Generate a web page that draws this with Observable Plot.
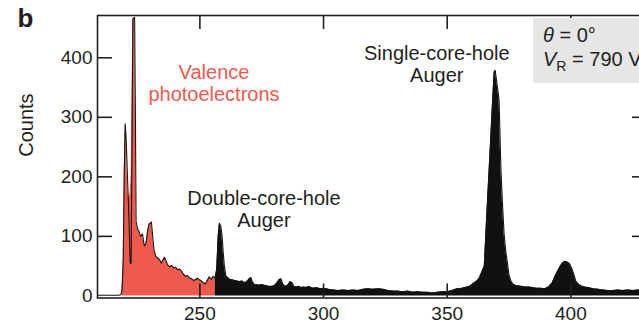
<!DOCTYPE html>
<html><head><meta charset="utf-8">
<script src="https://cdn.jsdelivr.net/npm/d3@7"></script>
<script src="https://cdn.jsdelivr.net/npm/@observablehq/plot@0.6"></script>
<style>
 html,body{margin:0;padding:0;background:#fff;}
 #wrap{position:relative;width:639px;height:322px;overflow:hidden;font-family:"Liberation Sans",Arial,sans-serif;color:#231f20;}
 #box{position:absolute;left:533px;top:18px;width:120px;height:65px;background:#e6e6e6;font-size:20px;line-height:24px;padding:5px 0 0 10px;box-sizing:border-box;white-space:nowrap;}
 #box sub{font-size:14px;vertical-align:-5px;line-height:0;}
</style></head><body>
<div id="wrap"><div id="chart"></div><div id="box"><div><i>θ</i> = 0°</div><div><i>V</i><sub>R</sub> = 790 V</div></div></div>
<script>
// Full spectrum (black outline), kinetic energy (eV) and counts
const specE = [209,212,215,217,218,218.5,219,219.4,219.8,220.2,220.6,221.0,221.4,221.8,222.2,222.6,222.9,223.6,223.9,224.2,224.8,225.4,226.0,226.8,227.5,228.2,228.9,229.5,230.4,231.0,231.5,232.2,233.0,233.8,234.4,235.0,235.7,236.4,237.0,237.8,238.6,239.4,240.2,241.0,241.8,242.6,243.4,244.2,245.0,245.8,246.6,247.4,248.2,249.0,249.8,250.6,251.4,252.2,253.0,253.8,254.6,255.4,256.2,256.8,257.4,257.9,258.4,258.9,259.4,259.9,260.5,261.2,262,263,264,265,266,267,268,269,270,270.6,271.2,272,273,274,275,276,277,278,279,280,281,282,282.8,283.5,284.5,285.5,286.5,287.3,288,289,290,291,292,293,294,295,296,297,298,299,300,302,304,306,308,310,312,314,316,318,320,322,324,326,328,330,332,334,336,338,340,342,344,346,348,350,352,354,356,358,359,360,361,362,363,364,365,366,367,367.7,368.4,369,369.4,370.2,371,371.7,372.3,373,373.7,374.4,375,375.7,376.5,377.5,378.5,380,381.5,383,384.5,386,388,389.5,391,392.5,393.5,394.5,395.5,396.5,397.5,398.5,399.5,400.5,401.3,402,403,404,405.5,407,409,411,413,415,417,419,421,423,425,427,429,431];
const specC = [1,1,1,1,2,8,60,200,289,262,215,168,120,56,54,280,465,468,320,125,113,108,100,104,84,88,110,121,124,96,76,66,64,60,55,60,65,58,52,49,51,47,48,44,45,42,36,33,34,30,29,26,27,30,27,25,22,20,26,32,28,33,30,45,100,122,118,104,75,50,34,31,28,27,26,25,24,25,22,24,29,31,24,19,19,18,19,18,17,16,16,17,21,27,29,20,16,18,24,22,16,15,16,14,15,14,16,14,13,14,13,12,13,11,10,9,10,9,10,9,11,12,11,12,11,9,8,8,7,8,6,7,6,6,5,6,7,7,9,12,13,15,16,19,22,25,30,40,50,135,215,272,330,376,379,355,328,216,160,105,75,54,35,26,20,18,17,16,15,15,14,13,13,12,15,22,32,40,48,55,58,57,54,45,35,25,20,17,15,14,12,11,10,9,9,10,9,10,9,10,11,10];
// Valence photoelectron region (red fill)
const valE = [218.5,219,219.4,219.8,220.2,220.6,221.0,221.4,221.8,222.2,222.6,222.9,223.6,223.9,224.2,224.8,225.4,226.0,226.8,227.5,228.2,228.9,229.5,230.4,231.0,231.5,232.2,233.0,233.8,234.4,235.0,235.7,236.4,237.0,237.8,238.6,239.4,240.2,241.0,241.8,242.6,243.4,244.2,245.0,245.8,246.6,247.4,248.2,249.0,249.8,250.6,251.4,252.2,253.0,253.8,254.6,255.4,256.2];
const valC = [8,60,200,289,262,205,170,165,172,200,350,465,468,320,125,113,108,100,104,84,88,110,121,124,96,76,66,64,60,55,60,65,58,52,49,51,47,48,44,45,42,36,33,34,30,29,26,27,30,27,25,22,20,26,32,28,33,30];
const augerStart = 256.2;
const xTicks = [250,300,350,400];
const yTicks = [0,100,200,300,400];
const yInTicks = [100,200,300,400];
const labels = [
  {e: 255.7, c: 358, text: "Valence\nphotoelectrons", color: "#ef5a4f"},
  {e: 275.9, c: 146, text: "Double-core-hole\nAuger", color: "#231f20"},
  {e: 345.8, c: 389, text: "Single-core-hole\nAuger", color: "#231f20"}
];

const spec = specE.map((e,i)=>({e, c: specC[i]}));
const val = valE.map((e,i)=>({e, c: valC[i]}));
const auger = spec.filter(d => d.e >= augerStart);

const ink = "#231f20";
const W = 639, H = 322, mL = 97, mR = -8, mT = 15, mB = 24.5;
const frameW = W - mL - mR, frameH = H - mT - mB;
const tickLen = 15;
const chart = Plot.plot({
  width: W, height: H,
  marginLeft: mL, marginRight: mR, marginTop: mT, marginBottom: mB,
  style: {fontFamily: "'Liberation Sans', Arial, sans-serif", fontSize: "19px", color: ink, background: "white"},
  x: {domain: [208.6, 431.0]},
  y: {domain: [-3.5, 471]},
  marks: [
    Plot.areaY(val, {x: "e", y: "c", fill: "#ef5a4f"}),
    Plot.areaY(auger, {x: "e", y: "c", fill: "#111"}),
    Plot.line(spec, {x: "e", y: "c", stroke: "#151515", strokeWidth: 1.1}),
    // inward ticks
    Plot.tickY(yInTicks, {y: d => d, stroke: ink, strokeWidth: 1.6, insetRight: frameW - tickLen}),
    Plot.tickY(yInTicks, {y: d => d, stroke: ink, strokeWidth: 1.6, insetLeft: frameW - tickLen}),
    Plot.tickX(xTicks, {x: d => d, stroke: ink, strokeWidth: 1.6, insetTop: frameH - 14}),
    Plot.tickX(xTicks, {x: d => d, stroke: ink, strokeWidth: 1.6, insetBottom: frameH - 14}),
    Plot.frame({stroke: ink, strokeWidth: 1.6}),
    Plot.axisY(yTicks, {anchor: "left", tickSize: 0, tickPadding: 5, label: null}),
    Plot.axisX(xTicks, {anchor: "bottom", tickSize: 0, tickPadding: 8, label: null}),
    Plot.text(labels, {x: "e", y: "c", text: "text", fill: "color", fontSize: 20, lineAnchor: "middle", lineHeight: 1.1}),
    Plot.text(["Counts"], {frameAnchor: "left", rotate: -90, dx: -71, fontSize: 20, fill: ink}),
    Plot.text(["b"], {frameAnchor: "top-left", dx: -80, dy: 3, textAnchor: "start", lineAnchor: "middle", fontSize: 26, fontWeight: "bold", fill: ink})
  ]
});
document.getElementById("chart").appendChild(chart);
</script>
</body></html>
